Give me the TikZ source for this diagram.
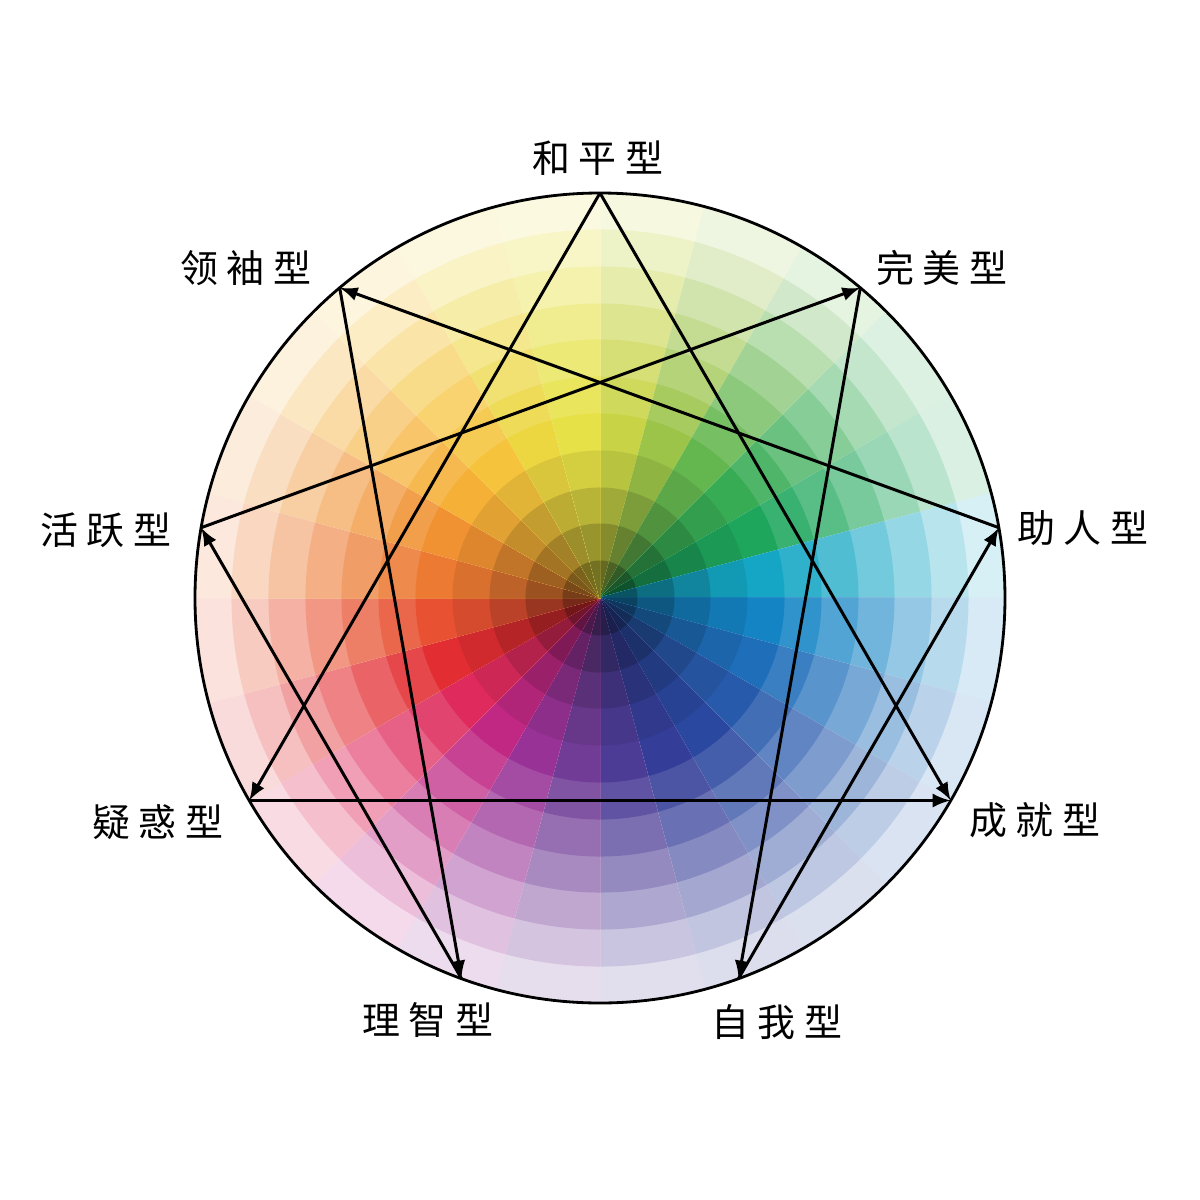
\documentclass[tikz,border=0pt]{standalone}
\usepackage{fontspec}
\newfontfamily\cjk{Noto Sans CJK SC}
\usetikzlibrary{arrows.meta}

% hues, clockwise from the top
\definecolor{c0}{RGB}{200,212,70}
\definecolor{c1}{RGB}{155,196,72}
\definecolor{c2}{RGB}{100,182,78}
\definecolor{c3}{RGB}{55,172,84}
\definecolor{c4}{RGB}{30,166,92}
\definecolor{c5}{RGB}{20,166,196}
\definecolor{c6}{RGB}{20,132,196}
\definecolor{c7}{RGB}{30,110,186}
\definecolor{c8}{RGB}{40,90,172}
\definecolor{c9}{RGB}{42,72,160}
\definecolor{c10}{RGB}{52,62,152}
\definecolor{c11}{RGB}{76,60,150}
\definecolor{c12}{RGB}{112,60,150}
\definecolor{c13}{RGB}{152,50,150}
\definecolor{c14}{RGB}{192,40,132}
\definecolor{c15}{RGB}{222,42,92}
\definecolor{c16}{RGB}{226,46,50}
\definecolor{c17}{RGB}{232,82,50}
\definecolor{c18}{RGB}{236,122,50}
\definecolor{c19}{RGB}{240,146,50}
\definecolor{c20}{RGB}{245,176,55}
\definecolor{c21}{RGB}{245,196,60}
\definecolor{c22}{RGB}{236,215,65}
\definecolor{c23}{RGB}{230,225,70}
\definecolor{linecol}{RGB}{0,0,0}

\tikzset{
  typelabel/.style={font=\cjk\fontsize{10.8pt}{13pt}\selectfont, inner sep=0pt},
  enline/.style={color=linecol, line width=0.85pt, -{Latex[length=0.18cm,width=0.14cm]}}
}

\begin{document}
\begin{tikzpicture}
	\useasboundingbox (-6cm,-6.02cm) rectangle (6cm,5.98cm);
	% colour wheel
	\foreach \k in {0,...,23}{
		\foreach \r/\tone in {4.05/17!white, 3.68/30!white, 3.31/45!white, 2.94/60!white, 2.58/74!white, 2.21/88!white, 1.84/100!white, 1.47/92!black, 1.10/80!black, 0.74/66!black, 0.37/50!black}{
			\filldraw[fill=c\k!\tone, draw=c\k!\tone, line width=0.3pt, line join=round] (0,0) -- ({90-15*\k}:\r) arc[start angle={90-15*\k}, end angle={75-15*\k}, radius=\r] -- cycle;
		}
	}
	\draw[color=linecol, line width=0.8pt] (0,0) circle (4.05cm);
	% enneagram points
	\coordinate (p9) at (90:4.05cm);
	\coordinate (p1) at (50:4.05cm);
	\coordinate (p2) at (10:4.05cm);
	\coordinate (p3) at (-30:4.05cm);
	\coordinate (p4) at (-70:4.05cm);
	\coordinate (p5) at (-110:4.05cm);
	\coordinate (p6) at (-150:4.05cm);
	\coordinate (p7) at (170:4.05cm);
	\coordinate (p8) at (130:4.05cm);
	% triangle
	\draw[enline] (p9) -- (p3);
	\draw[enline] (p9) -- (p6);
	\draw[enline] (p6) -- (p3);
	% hexad
	\draw[enline] (p7) -- (p1);
	\draw[enline] (p1) -- (p4);
	\draw[enline] (p4) -- (p2);
	\draw[enline] (p2) -- (p8);
	\draw[enline] (p8) -- (p5);
	\draw[enline] (p5) -- (p7);
	% labels
	\node[typelabel] (l9) at (-0.02cm ,4.40cm) {和 平 型};
	\node[typelabel] (l1) at (3.42cm ,3.30cm) {完 美 型};
	\node[typelabel] (l2) at (4.83cm ,0.70cm) {助 人 型};
	\node[typelabel] (l3) at (4.35cm ,-2.22cm) {成 就 型};
	\node[typelabel] (l4) at (1.77cm ,-4.24cm) {自 我 型};
	\node[typelabel] (l5) at (-1.72cm ,-4.22cm) {理 智 型};
	\node[typelabel] (l6) at (-4.42cm ,-2.24cm) {疑 惑 型};
	\node[typelabel] (l7) at (-4.94cm ,0.68cm) {活 跃 型};
	\node[typelabel] (l8) at (-3.54cm ,3.30cm) {领 袖 型};
\end{tikzpicture}
\end{document}
